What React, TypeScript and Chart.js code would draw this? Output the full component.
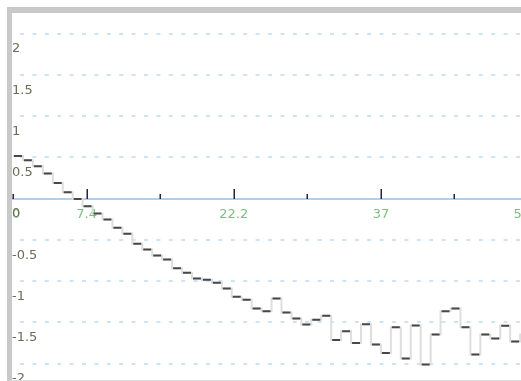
import React, { useEffect, useRef } from "react";
import { Chart, registerables } from "chart.js";

Chart.register(...registerables);

// One value per unit-wide step, starting at x = 0
const stepValues = [
  0.515, 0.464, 0.392, 0.303, 0.19, 0.076, -0.004, -0.093, -0.182, -0.255,
  -0.355, -0.428, -0.549, -0.618, -0.691, -0.739, -0.846, -0.9, -0.97, -0.985,
  -1.02, -1.09, -1.19, -1.228, -1.333, -1.367, -1.212, -1.382, -1.455, -1.527,
  -1.47, -1.42, -1.715, -1.61, -1.75, -1.524, -1.77, -1.873, -1.56, -1.94,
  -1.54, -2.012, -1.648, -1.366, -1.333, -1.56, -1.89, -1.648, -1.697, -1.543,
  -1.733, -1.648,
];
const stepStart = 0;
const stepWidth = 1;

const xMajorTicks = [7.4, 22.2, 37, 51.8];
const xMinorTicks = [0, 14.8, 29.6, 44.4];
const xLabelValues = [0, 7.4, 22.2, 37, 51.8];
const xLabels = ["0", "7.4", "22.2", "37", "51.8"];
const yTickValues = [2, 1.5, 1, 0.5, 0, -0.5, -1, -1.5, -2];
const yLabels = ["2", "1.5", "1", "0.5", "0", "-0.5", "-1", "-1.5", "-2"];
const xRange = [0, 53];
const yRange = [-2.2, 2.25];

const FONT = "13px 'DejaVu Sans', Verdana, sans-serif";

const axesPlugin = {
  id: "customAxes",
  beforeDatasetsDraw(chart: any) {
    const { ctx, chartArea, scales } = chart;
    const xs = scales.x;
    const ys = scales.y;
    ctx.save();
    // dashed grid lines
    ctx.strokeStyle = "#bddcf5";
    ctx.lineWidth = 1.5;
    ctx.setLineDash([4, 8.4]);
    ctx.lineDashOffset = 5.4;
    yTickValues.forEach((v) => {
      if (v === 0) return;
      const py = Math.round(ys.getPixelForValue(v));
      ctx.beginPath();
      ctx.moveTo(chartArea.left, py);
      ctx.lineTo(chartArea.right, py);
      ctx.stroke();
    });
    ctx.setLineDash([]);
    // axis line at y = 0
    const y0 = Math.round(ys.getPixelForValue(0));
    ctx.strokeStyle = "#abd0f2";
    ctx.lineWidth = 2;
    ctx.beginPath();
    ctx.moveTo(0, y0);
    ctx.lineTo(chart.width, y0);
    ctx.stroke();
    // tick marks
    ctx.strokeStyle = "#20224a";
    ctx.lineWidth = 1.5;
    xMajorTicks.forEach((v) => {
      const px = Math.round(xs.getPixelForValue(v)) + 0.25;
      ctx.beginPath();
      ctx.moveTo(px, y0 - 10);
      ctx.lineTo(px, y0);
      ctx.stroke();
    });
    xMinorTicks.forEach((v) => {
      const px = Math.max(Math.round(xs.getPixelForValue(v)), 1) + 0.25;
      ctx.beginPath();
      ctx.moveTo(px, y0 - 5);
      ctx.lineTo(px, y0);
      ctx.stroke();
    });
    // x labels
    ctx.font = FONT;
    ctx.textBaseline = "alphabetic";
    ctx.fillStyle = "#7cbf7c";
    xLabelValues.forEach((v, i) => {
      const px = xs.getPixelForValue(v);
      ctx.textAlign = v === 0 ? "left" : "center";
      ctx.fillText(xLabels[i], v === 0 ? px - 1 : px, y0 + 18.5);
    });
    // y labels
    ctx.fillStyle = "#6c6c58";
    ctx.textAlign = "left";
    yTickValues.forEach((v, i) => {
      const py = ys.getPixelForValue(v);
      ctx.fillText(yLabels[i], 0, py + 18.75);
    });
    ctx.restore();
  },
};

export default function App() {
  const ref = useRef<HTMLCanvasElement | null>(null);

  useEffect(() => {
    if (!ref.current) return;
    const stepPoints = stepValues.map((v, i) => ({ x: stepStart + i * stepWidth, y: v }));
    stepPoints.push({
      x: stepStart + stepValues.length * stepWidth,
      y: stepValues[stepValues.length - 1],
    });
    const inset = 0.1 * stepWidth;
    const flatPoints: { x: number; y: number | null }[] = [];
    stepValues.forEach((v, i) => {
      const a = stepStart + i * stepWidth;
      flatPoints.push({ x: a + inset, y: v });
      flatPoints.push({ x: a + stepWidth - inset, y: v });
      flatPoints.push({ x: a + stepWidth - inset, y: null });
    });

    const chart = new Chart(ref.current, {
      type: "line",
      data: {
        datasets: [
          {
            data: flatPoints as any,
            borderColor: "#484848",
            borderWidth: 2,
            pointRadius: 0,
            spanGaps: false,
            order: 0,
          },
          {
            data: stepPoints,
            borderColor: "#dedede",
            borderWidth: 2,
            pointRadius: 0,
            stepped: true,
            order: 1,
          },
        ],
      },
      options: {
        animation: false,
        responsive: false,
        maintainAspectRatio: false,
        events: [],
        layout: { padding: { left: 1, right: 2, top: 0, bottom: 0 } },
        plugins: { legend: { display: false }, tooltip: { enabled: false } },
        scales: {
          x: { type: "linear", min: xRange[0], max: xRange[1], display: false },
          y: { type: "linear", min: yRange[0], max: yRange[1], display: false },
        },
      },
      plugins: [axesPlugin],
    });
    return () => chart.destroy();
  }, []);

  return (
    <div
      style={{
        position: "fixed",
        left: 0,
        top: 0,
        width: 521,
        height: 381,
        overflow: "hidden",
        background: "#fff",
      }}
    >
      <div
        style={{
          position: "absolute",
          left: 7,
          top: 7,
          width: 530,
          height: 367,
          borderTop: "6px solid #c9c9c9",
          borderLeft: "5px solid #c9c9c9",
          borderBottom: "1px solid #dcdcdc",
        }}
      >
        <canvas ref={ref} width={530} height={367} style={{ display: "block" }} />
      </div>
    </div>
  );
}
